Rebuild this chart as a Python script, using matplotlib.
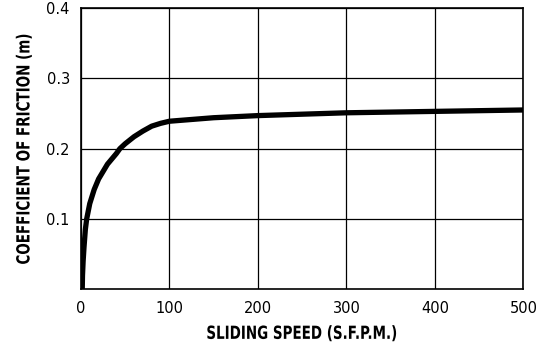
import matplotlib
matplotlib.use("Agg")
import matplotlib.pyplot as plt
from matplotlib import patheffects
from matplotlib.transforms import Affine2D

speed = [1.5, 1.8, 2.5, 3.5, 5, 6.5, 10, 15, 20, 30, 40, 44, 50, 60, 70, 80, 90, 100,
         120, 150, 200, 250, 300, 350, 400, 450, 500]
friction = [0.0, 0.02, 0.04, 0.06, 0.085, 0.1, 0.122, 0.142, 0.157, 0.178, 0.193, 0.2,
            0.207, 0.217, 0.225, 0.232, 0.236, 0.239, 0.241, 0.244, 0.247, 0.249,
            0.251, 0.252, 0.253, 0.254, 0.255]
xticks = [0, 100, 200, 300, 400, 500]
yticks = [0.1, 0.2, 0.3, 0.4]
ytick_labels = ["0.1", "0.2", "0.3", "0.4"]


class TallText(patheffects.AbstractPathEffect):
    """Stretch glyphs perpendicular to the baseline (condensed look)."""
    def __init__(self, sy):
        super().__init__()
        self.sy = sy

    def draw_path(self, renderer, gc, tpath, affine, rgbFace=None):
        ext = tpath.get_extents()
        cy = (ext.y0 + ext.y1) / 2
        t = Affine2D().translate(0, -cy).scale(1, self.sy).translate(0, cy) + affine
        renderer.draw_path(gc, tpath, t, rgbFace)


fig = plt.figure(figsize=(5.43, 3.43), dpi=100)
ax = fig.add_axes([0.149, 0.156, 0.815, 0.821])
ax.plot(speed, friction, color="black", lw=3.8, solid_capstyle="butt")
ax.set_xlim(0, 500)
ax.set_ylim(0, 0.4)
ax.set_xticks(xticks)
ax.set_xticklabels([str(v) for v in xticks], fontsize=10.5)
ax.set_yticks(yticks)
ax.set_yticklabels(ytick_labels, fontsize=10.5)
ax.tick_params(axis="x", length=0, pad=8)
ax.tick_params(axis="y", length=0, pad=8)
ax.grid(True, color="black", lw=0.9)
for s in ax.spines.values():
    s.set_linewidth(1.2)
ax.set_xlabel("SLIDING SPEED (S.F.P.M.)", fontsize=9.7, fontweight="bold",
              labelpad=8.5, path_effects=[TallText(1.34)])
ax.set_ylabel("COEFFICIENT OF FRICTION (m)", fontsize=9.7, fontweight="bold",
              labelpad=11, path_effects=[TallText(1.34)])
fig.savefig("out.png", dpi=100)
